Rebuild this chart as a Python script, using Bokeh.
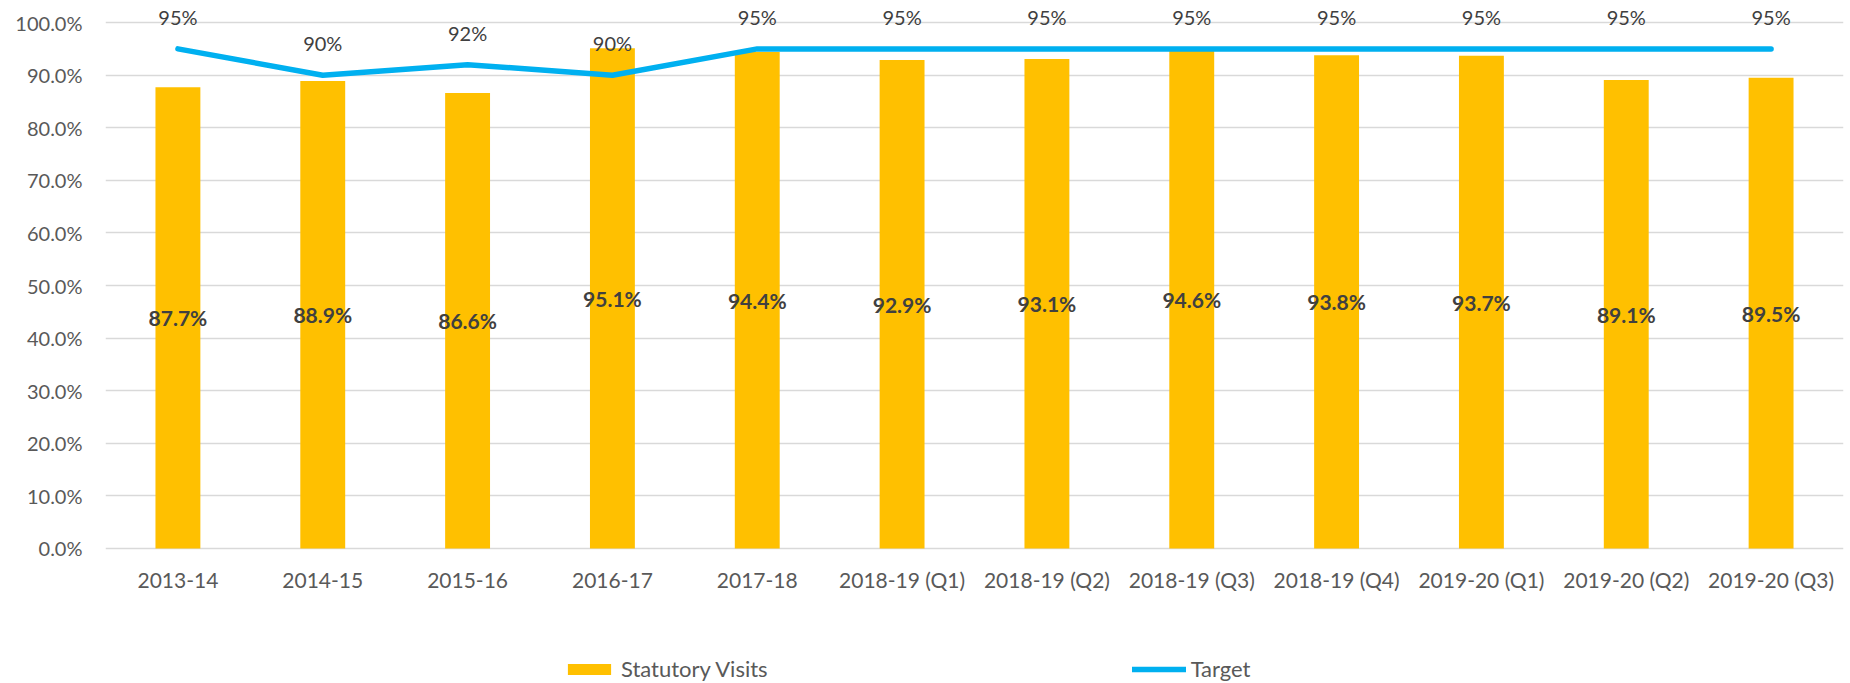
from bokeh.plotting import figure
from bokeh.models import (ColumnDataSource, FactorRange, FixedTicker, NumeralTickFormatter,
                          Legend, LegendItem, Range1d)
from bokeh.core.properties import value
from bokeh.embed import file_html
from bokeh.resources import INLINE

categories = ["2013-14", "2014-15", "2015-16", "2016-17", "2017-18", "2018-19 (Q1)",
              "2018-19 (Q2)", "2018-19 (Q3)", "2018-19 (Q4)", "2019-20 (Q1)",
              "2019-20 (Q2)", "2019-20 (Q3)"]
visits = [0.877, 0.889, 0.866, 0.951, 0.944, 0.929, 0.931, 0.946, 0.938, 0.937, 0.891, 0.895]
target = [0.95, 0.90, 0.92, 0.90, 0.95, 0.95, 0.95, 0.95, 0.95, 0.95, 0.95, 0.95]
y_ticks = [0.0, 0.1, 0.2, 0.3, 0.4, 0.5, 0.6, 0.7, 0.8, 0.9, 1.0]

FONT = "Lato"
TXT = "#595959"

src = ColumnDataSource(dict(
    cat=categories,
    visits=visits,
    half=[v / 2 for v in visits],
    vlabel=["{:.1f}%".format(v * 100) for v in visits],
    target=target,
    tlabel=["{:.0f}%".format(t * 100) for t in target],
))

p = figure(width=1850, height=683, output_backend="svg", toolbar_location=None,
           x_range=FactorRange(*categories, range_padding=0),
           y_range=Range1d(-0.2567, 1.042),
           min_border_left=105, min_border_right=7, min_border_top=0, min_border_bottom=0)
p.outline_line_color = None
p.background_fill_color = "white"
p.border_fill_color = "white"

bars = p.vbar(x="cat", top="visits", width=0.31, source=src,
              fill_color="#FFC000", line_color=None)
line = p.line(x="cat", y="target", source=src, line_color="#00B0F0", line_width=5.5,
              line_cap="round", line_join="round")

p.text(x="cat", y="half", text="vlabel", source=src, text_align="center",
       text_baseline="middle", text_font=value(FONT), text_font_size="21px",
       text_font_style="bold", text_color="#404040")
p.text(x="cat", y="target", text="tlabel", source=src, text_align="center",
       text_baseline="middle", y_offset=-32, text_font=value(FONT),
       text_font_size="20px", text_color="#404040")

# axes
p.yaxis.ticker = FixedTicker(ticks=y_ticks)
p.yaxis.formatter = NumeralTickFormatter(format="0.0%")
p.yaxis.axis_line_color = None
p.yaxis.major_tick_line_color = None
p.yaxis.major_tick_out = 0
p.yaxis.major_tick_in = 0
p.yaxis.minor_tick_line_color = None
p.yaxis.major_label_standoff = 23
p.yaxis.major_label_text_font = FONT
p.yaxis.major_label_text_font_size = "20px"
p.yaxis.major_label_text_color = TXT

p.xaxis.fixed_location = 0
p.xaxis.axis_line_color = None
p.xaxis.major_tick_line_color = None
p.xaxis.major_tick_out = 0
p.xaxis.major_tick_in = 0
p.xaxis.major_label_standoff = 19
p.xaxis.major_label_text_font = FONT
p.xaxis.major_label_text_font_size = "21px"
p.xaxis.major_label_text_color = TXT

p.xgrid.grid_line_color = None
p.ygrid.grid_line_color = "#D9D9D9"
p.ygrid.grid_line_width = 1.3

legend = Legend(items=[LegendItem(label="Statutory Visits", renderers=[bars]),
                       LegendItem(label="Target", renderers=[line])],
                orientation="horizontal", location=(457, 1),
                glyph_width=54, glyph_height=14, label_standoff=5, spacing=364,
                padding=0, margin=0, border_line_color=None, background_fill_alpha=0,
                label_text_font=FONT, label_text_font_size="22px", label_text_color=TXT)
p.add_layout(legend, "center")

open("out.html", "w").write(file_html(p, INLINE))
